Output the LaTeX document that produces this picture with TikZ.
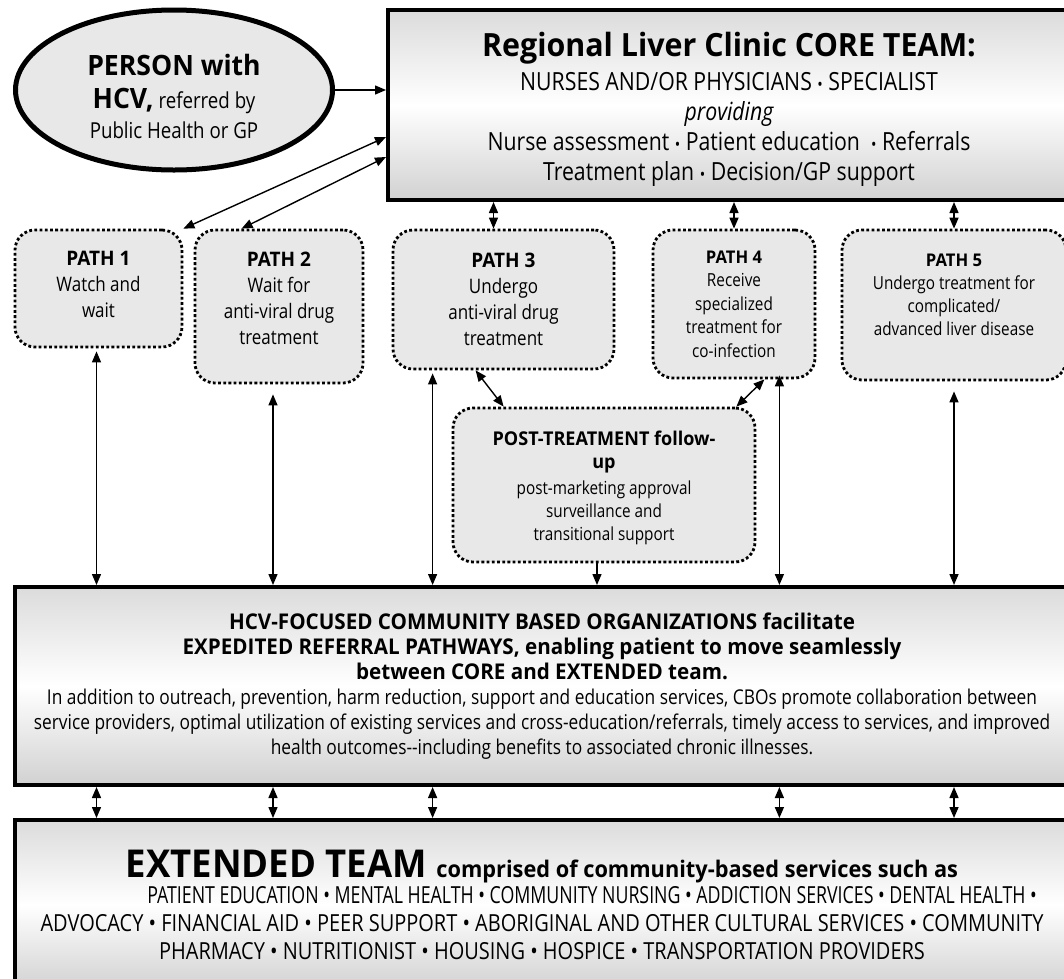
\documentclass[tikz,border=0pt]{standalone}
\usepackage{fontspec}
\setmainfont{Open Sans}[FakeStretch=0.85, BoldFeatures={FakeStretch=0.95}]
\usetikzlibrary{arrows.meta,positioning,calc,shapes.geometric}
\newcommand{\fs}[2]{\fontsize{#1}{#2}\selectfont}
\newcommand{\sbul}{{\fontsize{17}{17}\selectfont\textbullet}}
\tikzset{
  teambox/.style={draw, line width=4pt, shade, top color=black!14, bottom color=black!18,
                  middle color=white, align=center, inner sep=0pt},
  pathbox/.style={draw, rounded corners=20pt, fill=black!9, line width=2.8pt,
                  dash pattern=on 2.8pt off 2.4pt, align=center, inner sep=0pt},
  personnode/.style={draw, ellipse, line width=5pt, fill=black!9, align=center, inner sep=0pt},
  arrow/.style={-{Triangle[length=11pt,width=9pt]}, line width=1.4pt},
  dblarrow/.style={{Triangle[length=11pt,width=9pt]}-{Triangle[length=11pt,width=9pt]},
                   line width=1.4pt},
}

\begin{document}
\begin{tikzpicture}[x=1pt, y=-1pt]
\useasboundingbox (0,0) rectangle (1064,978);

% ============================ top row =================================
\node[personnode, minimum width=317pt, minimum height=160pt, font=\fs{22}{30}] (person) at (174,90)
  {\rule{0pt}{34pt}{\fs{28}{40}\bfseries PERSON with}\\[3pt]
   {\fs{28}{34}\bfseries HCV,}\ referred by\\
   Public Health or GP};

\node[teambox, minimum width=682pt, minimum height=190pt, font=\fs{25}{30}] (core) at (729,105)
  {\rule{0pt}{33pt}{\fs{32}{35}\bfseries Regional Liver Clinic CORE TEAM:}\\[4pt]
   NURSES AND/OR PHYSICIANS \sbul{} SPECIALIST\\
   \itshape providing\\
   Nurse assessment \sbul{} Patient education \ \sbul{} Referrals\\
   Treatment plan \sbul{} Decision/GP support};

% ============================ paths ===================================
\node[pathbox, minimum width=167pt, minimum height=117pt, font=\fs{20}{26}] (path1) at (98.5,288.5)
  {\textbf{PATH 1}\\Watch and\\wait\rule[-9pt]{0pt}{9pt}};
\node[pathbox, minimum width=168pt, minimum height=153pt, font=\fs{20}{26}] (path2) at (279,306.5)
  {\textbf{PATH 2}\\Wait for\\anti-viral drug\\treatment\rule[-17pt]{0pt}{17pt}};
\node[pathbox, minimum width=221pt, minimum height=139pt, font=\fs{20}{26}] (path3) at (503.5,299.5)
  {\textbf{PATH 3}\\Undergo\\anti-viral drug\\treatment};
\node[pathbox, minimum width=162pt, minimum height=148pt, font=\fs{18}{23.5}] (path4) at (734,304)
  {{\fs{17.5}{23.5}\bfseries PATH 4}\\Receive\\specialized\\treatment for\\co-infection};
\node[pathbox, minimum width=224pt, minimum height=150pt, font=\fs{18}{23}, text depth=21pt] (path5) at (954,305)
  {{\fs{17.5}{23}\bfseries PATH 5}\\Undergo treatment for\\complicated/\\advanced liver disease};

\node[pathbox, minimum width=302pt, minimum height=154pt, font=\fs{18}{23}] (post) at (604,485)
  {\rule{0pt}{21pt}{\fs{19}{24}\bfseries POST-TREATMENT follow-}\\{\fs{19}{24}\bfseries up}\\[3pt]
   post-marketing approval\\surveillance and\\transitional support};

% ============================ community ===============================
\node[teambox, minimum width=1054pt, minimum height=198pt, font=\fs{20.4}{25}] (cbo) at (542,686)
  {{\fs{21.7}{27}\bfseries HCV-FOCUSED COMMUNITY BASED ORGANIZATIONS facilitate}\\
   {\fs{21.7}{27}\bfseries EXPEDITED REFERRAL PATHWAYS, enabling patient to move seamlessly}\\
   {\fs{21.7}{27}\bfseries between CORE and EXTENDED team.}\\
   In addition to outreach, prevention, harm reduction, support and education services, CBOs promote collaboration between\\
   service providers, optimal utilization of existing services and cross-education/referrals, timely access to services, and improved\\
   health outcomes-{}-including benefits to associated chronic illnesses.};

\node[teambox, minimum width=1054pt, minimum height=170pt, font=\fs{23.5}{28}] (ext) at (542,905)
  {{\fs{38.4}{36}\bfseries EXTENDED TEAM {\fs{22.9}{36}comprised of community-based services such as}}\\[-2pt]
   \hspace*{100pt}\scalebox{0.89}[1]{PATIENT EDUCATION \textbullet{} MENTAL HEALTH \textbullet{} COMMUNITY NURSING \textbullet{} ADDICTION SERVICES \textbullet{} DENTAL HEALTH \textbullet}\\
   ADVOCACY \textbullet{} FINANCIAL AID \textbullet{} PEER SUPPORT \textbullet{} ABORIGINAL AND OTHER CULTURAL SERVICES \textbullet{} COMMUNITY\\
   PHARMACY \textbullet{} NUTRITIONIST \textbullet{} HOUSING \textbullet{} HOSPICE \textbullet{} TRANSPORTATION PROVIDERS};

% referral into the core team
\draw[arrow] (person.east) -- (person.east -| core.west);

% core team to the five paths
\draw[dblarrow] ([yshift=-32pt]core.west) -- (path1.north east);
\draw[dblarrow] ([yshift=-52pt]core.west) -- ([xshift=48pt]path2.north west);
\draw[dblarrow] ([xshift=-10pt]path3.north |- core.south) -- ([xshift=-10pt]path3.north);
\draw[dblarrow] (path4.north |- core.south) -- (path4.north);
\draw[dblarrow] (path5.north |- core.south) -- (path5.north);

% paths 3 and 4 into post-treatment
\draw[dblarrow] ([xshift=84pt]path3.south west) -- ([xshift=52pt]post.north west);
\draw[dblarrow] ([xshift=-52pt]path4.south east) -- ([xshift=-20pt]post.north east);

% paths down to the community organizations
\coordinate (c1) at ([xshift=-2pt]path1.south);
\coordinate (c2) at ([xshift=-6pt]path2.south);
\coordinate (c3) at ([xshift=41pt]path3.south west);
\coordinate (c4) at ([xshift=-37pt]path4.south east);
\coordinate (c5) at (path5.south);
\draw[dblarrow, shorten <=3pt] (c1) -- (c1 |- cbo.north);
\draw[dblarrow, shorten <=10pt] (c2) -- (c2 |- cbo.north);
\draw[dblarrow, shorten <=3pt] (c3) -- (c3 |- cbo.north);
\draw[arrow] ([xshift=-7pt]post.south) -- ([xshift=-7pt]post.south |- cbo.north);
\draw[dblarrow, shorten <=-4pt] (c4) -- (c4 |- cbo.north);
\draw[dblarrow, shorten <=10pt] (c5) -- (c5 |- cbo.north);

% community organizations and extended team
\foreach \c in {c1,c2,c3,c4,c5}
  \draw[dblarrow] (\c |- cbo.south) -- (\c |- ext.north);

\end{tikzpicture}
\end{document}
